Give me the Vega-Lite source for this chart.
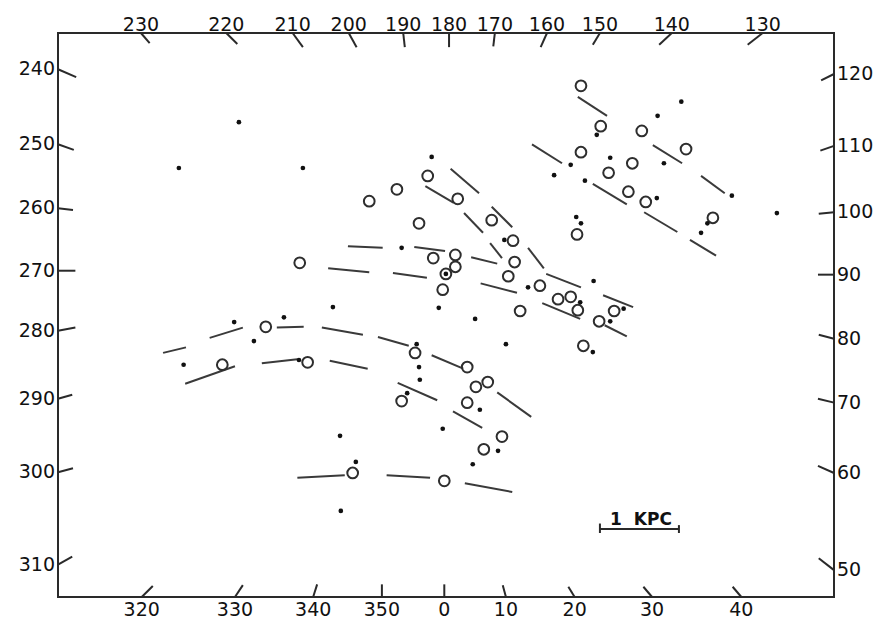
{
  "$schema": "https://vega.github.io/schema/vega-lite/v6.json",
  "width": 776,
  "height": 564,
  "autosize": {"type": "none"},
  "padding": {"left": 58, "top": 33, "right": 43, "bottom": 25},
  "background": "white",
  "config": {"view": {"stroke": "#2a2a2a", "strokeWidth": 2}},
  "datasets": {
    "circles": [
      {"x": 6.62, "y": 6.47}, {"x": 6.87, "y": 5.96}, {"x": 7.39, "y": 5.90}, {"x": 7.95, "y": 5.67},
      {"x": 6.62, "y": 5.63}, {"x": 7.27, "y": 5.49}, {"x": 6.97, "y": 5.37}, {"x": 7.22, "y": 5.13},
      {"x": 7.44, "y": 5.00}, {"x": 8.29, "y": 4.80}, {"x": 6.57, "y": 4.59}, {"x": 4.68, "y": 5.33},
      {"x": 4.29, "y": 5.16}, {"x": 3.94, "y": 5.01}, {"x": 5.06, "y": 5.04}, {"x": 4.57, "y": 4.73},
      {"x": 5.49, "y": 4.77}, {"x": 5.76, "y": 4.51}, {"x": 4.75, "y": 4.29}, {"x": 5.03, "y": 4.33},
      {"x": 5.03, "y": 4.18}, {"x": 4.91, "y": 4.09}, {"x": 4.87, "y": 3.89}, {"x": 5.78, "y": 4.24},
      {"x": 5.70, "y": 4.06}, {"x": 6.10, "y": 3.94}, {"x": 3.06, "y": 4.23}, {"x": 6.33, "y": 3.77},
      {"x": 6.49, "y": 3.80}, {"x": 6.58, "y": 3.63}, {"x": 7.04, "y": 3.62}, {"x": 6.85, "y": 3.49},
      {"x": 6.65, "y": 3.18}, {"x": 5.85, "y": 3.62}, {"x": 4.52, "y": 3.09}, {"x": 4.35, "y": 2.48},
      {"x": 5.18, "y": 2.91}, {"x": 5.29, "y": 2.66}, {"x": 5.44, "y": 2.72}, {"x": 5.18, "y": 2.46},
      {"x": 5.62, "y": 2.03}, {"x": 5.39, "y": 1.87}, {"x": 4.89, "y": 1.47}, {"x": 3.73, "y": 1.57},
      {"x": 2.63, "y": 3.42}, {"x": 2.08, "y": 2.94}, {"x": 3.16, "y": 2.97}
    ],
    "dots": [
      {"x": 2.29, "y": 6.01}, {"x": 1.53, "y": 5.43}, {"x": 3.10, "y": 5.43}, {"x": 4.73, "y": 5.57},
      {"x": 4.35, "y": 4.42}, {"x": 3.48, "y": 3.67}, {"x": 2.86, "y": 3.54}, {"x": 2.23, "y": 3.48},
      {"x": 2.48, "y": 3.24}, {"x": 1.59, "y": 2.94}, {"x": 3.05, "y": 3.00}, {"x": 4.54, "y": 3.20},
      {"x": 4.57, "y": 2.91}, {"x": 4.58, "y": 2.75}, {"x": 4.42, "y": 2.58}, {"x": 3.57, "y": 2.04},
      {"x": 3.77, "y": 1.71}, {"x": 3.58, "y": 1.09}, {"x": 4.82, "y": 3.66}, {"x": 5.28, "y": 3.52},
      {"x": 5.95, "y": 3.92}, {"x": 5.65, "y": 4.52}, {"x": 4.91, "y": 4.09}, {"x": 5.67, "y": 3.20},
      {"x": 5.34, "y": 2.37}, {"x": 4.87, "y": 2.13}, {"x": 5.57, "y": 1.85}, {"x": 5.25, "y": 1.68},
      {"x": 7.89, "y": 6.27}, {"x": 7.59, "y": 6.09}, {"x": 6.82, "y": 5.85}, {"x": 7.67, "y": 5.49},
      {"x": 6.99, "y": 5.56}, {"x": 6.49, "y": 5.47}, {"x": 6.28, "y": 5.34}, {"x": 6.67, "y": 5.27},
      {"x": 7.58, "y": 5.05}, {"x": 8.53, "y": 5.08}, {"x": 9.10, "y": 4.86}, {"x": 8.22, "y": 4.73},
      {"x": 8.14, "y": 4.61}, {"x": 6.56, "y": 4.81}, {"x": 6.62, "y": 4.73}, {"x": 6.78, "y": 4.00},
      {"x": 6.61, "y": 3.73}, {"x": 7.16, "y": 3.65}, {"x": 6.99, "y": 3.49}, {"x": 6.77, "y": 3.10}
    ],
    "segments": [
      {"x": 1.33, "y": 3.09, "x2": 1.62, "y2": 3.16},
      {"x": 1.92, "y": 3.28, "x2": 2.34, "y2": 3.41},
      {"x": 2.77, "y": 3.41, "x2": 3.11, "y2": 3.42},
      {"x": 3.34, "y": 3.41, "x2": 3.86, "y2": 3.32},
      {"x": 4.05, "y": 3.29, "x2": 4.44, "y2": 3.18},
      {"x": 4.73, "y": 3.06, "x2": 5.13, "y2": 2.89},
      {"x": 1.61, "y": 2.70, "x2": 2.24, "y2": 2.92},
      {"x": 2.58, "y": 2.96, "x2": 3.03, "y2": 3.01},
      {"x": 3.44, "y": 2.99, "x2": 3.92, "y2": 2.89},
      {"x": 4.30, "y": 2.71, "x2": 4.80, "y2": 2.49},
      {"x": 5.00, "y": 2.35, "x2": 5.37, "y2": 2.14},
      {"x": 5.56, "y": 2.59, "x2": 5.99, "y2": 2.28},
      {"x": 3.03, "y": 1.51, "x2": 3.63, "y2": 1.54},
      {"x": 4.16, "y": 1.54, "x2": 4.71, "y2": 1.51},
      {"x": 5.15, "y": 1.44, "x2": 5.75, "y2": 1.33},
      {"x": 3.67, "y": 4.44, "x2": 4.11, "y2": 4.42},
      {"x": 4.51, "y": 4.43, "x2": 4.90, "y2": 4.38},
      {"x": 3.42, "y": 4.16, "x2": 3.94, "y2": 4.11},
      {"x": 4.24, "y": 4.10, "x2": 4.67, "y2": 4.04},
      {"x": 5.23, "y": 4.30, "x2": 5.56, "y2": 4.22},
      {"x": 5.35, "y": 3.97, "x2": 5.81, "y2": 3.85},
      {"x": 6.18, "y": 4.09, "x2": 6.62, "y2": 3.92},
      {"x": 6.90, "y": 3.82, "x2": 7.28, "y2": 3.67},
      {"x": 6.13, "y": 3.72, "x2": 6.61, "y2": 3.52},
      {"x": 6.92, "y": 3.44, "x2": 7.20, "y2": 3.30},
      {"x": 4.65, "y": 5.20, "x2": 5.01, "y2": 4.99},
      {"x": 4.97, "y": 5.42, "x2": 5.33, "y2": 5.11},
      {"x": 5.14, "y": 4.86, "x2": 5.38, "y2": 4.61},
      {"x": 5.49, "y": 4.94, "x2": 5.75, "y2": 4.68},
      {"x": 5.47, "y": 4.48, "x2": 5.62, "y2": 4.29},
      {"x": 5.95, "y": 4.42, "x2": 6.15, "y2": 4.16},
      {"x": 6.58, "y": 6.33, "x2": 6.95, "y2": 6.09},
      {"x": 6.00, "y": 5.73, "x2": 6.38, "y2": 5.49},
      {"x": 6.77, "y": 5.23, "x2": 7.20, "y2": 4.97},
      {"x": 7.53, "y": 5.72, "x2": 7.90, "y2": 5.49},
      {"x": 8.14, "y": 5.33, "x2": 8.44, "y2": 5.11},
      {"x": 7.42, "y": 4.87, "x2": 7.84, "y2": 4.62},
      {"x": 8.00, "y": 4.52, "x2": 8.33, "y2": 4.32}
    ],
    "ticks": [
      {"side": "top", "label": "230", "x": 1.05, "y": 7.139, "x2": 1.16, "y2": 7.01},
      {"side": "top", "label": "220", "x": 2.13, "y": 7.139, "x2": 2.27, "y2": 7.00},
      {"side": "top", "label": "210", "x": 2.97, "y": 7.139, "x2": 3.10, "y2": 6.96},
      {"side": "top", "label": "200", "x": 3.68, "y": 7.139, "x2": 3.78, "y2": 6.96},
      {"side": "top", "label": "190", "x": 4.37, "y": 7.139, "x2": 4.39, "y2": 6.96},
      {"side": "top", "label": "180", "x": 4.95, "y": 7.139, "x2": 4.95, "y2": 6.96},
      {"side": "top", "label": "170", "x": 5.53, "y": 7.139, "x2": 5.51, "y2": 6.97},
      {"side": "top", "label": "160", "x": 6.19, "y": 7.139, "x2": 6.11, "y2": 6.96},
      {"side": "top", "label": "150", "x": 6.86, "y": 7.139, "x2": 6.77, "y2": 6.99},
      {"side": "top", "label": "140", "x": 7.77, "y": 7.139, "x2": 7.61, "y2": 6.99},
      {"side": "top", "label": "130", "x": 8.92, "y": 7.139, "x2": 8.73, "y2": 6.99},
      {"side": "left", "label": "240", "x": 0, "y": 6.68, "x2": 0.23, "y2": 6.58},
      {"side": "left", "label": "250", "x": 0, "y": 5.73, "x2": 0.20, "y2": 5.66},
      {"side": "left", "label": "260", "x": 0, "y": 4.92, "x2": 0.19, "y2": 4.90},
      {"side": "left", "label": "270", "x": 0, "y": 4.13, "x2": 0.22, "y2": 4.13},
      {"side": "left", "label": "280", "x": 0, "y": 3.37, "x2": 0.22, "y2": 3.41},
      {"side": "left", "label": "290", "x": 0, "y": 2.51, "x2": 0.18, "y2": 2.56},
      {"side": "left", "label": "300", "x": 0, "y": 1.58, "x2": 0.19, "y2": 1.63},
      {"side": "left", "label": "310", "x": 0, "y": 0.41, "x2": 0.18, "y2": 0.51},
      {"side": "bottom", "label": "320", "x": 1.06, "y": 0, "x2": 1.20, "y2": 0.14},
      {"side": "bottom", "label": "330", "x": 2.24, "y": 0, "x2": 2.34, "y2": 0.15},
      {"side": "bottom", "label": "340", "x": 3.23, "y": 0, "x2": 3.28, "y2": 0.16},
      {"side": "bottom", "label": "350", "x": 4.10, "y": 0, "x2": 4.10, "y2": 0.16},
      {"side": "bottom", "label": "0", "x": 4.89, "y": 0, "x2": 4.89, "y2": 0.16},
      {"side": "bottom", "label": "10", "x": 5.67, "y": 0, "x2": 5.63, "y2": 0.15},
      {"side": "bottom", "label": "20", "x": 6.54, "y": 0, "x2": 6.46, "y2": 0.13},
      {"side": "bottom", "label": "30", "x": 7.52, "y": 0, "x2": 7.41, "y2": 0.13},
      {"side": "bottom", "label": "40", "x": 8.65, "y": 0, "x2": 8.54, "y2": 0.13},
      {"side": "right", "label": "120", "x": 9.823, "y": 6.62, "x2": 9.66, "y2": 6.54},
      {"side": "right", "label": "110", "x": 9.823, "y": 5.71, "x2": 9.65, "y2": 5.65},
      {"side": "right", "label": "100", "x": 9.823, "y": 4.87, "x2": 9.63, "y2": 4.85},
      {"side": "right", "label": "90", "x": 9.823, "y": 4.08, "x2": 9.62, "y2": 4.08},
      {"side": "right", "label": "80", "x": 9.823, "y": 3.27, "x2": 9.63, "y2": 3.32},
      {"side": "right", "label": "70", "x": 9.823, "y": 2.46, "x2": 9.62, "y2": 2.51},
      {"side": "right", "label": "60", "x": 9.823, "y": 1.57, "x2": 9.62, "y2": 1.66},
      {"side": "right", "label": "50", "x": 9.823, "y": 0.34, "x2": 9.63, "y2": 0.49}
    ],
    "scalebar": [
      {"x": 6.86, "y": 0.86, "x2": 7.86, "y2": 0.86},
      {"x": 6.86, "y": 0.81, "x2": 6.86, "y2": 0.93},
      {"x": 7.86, "y": 0.81, "x2": 7.86, "y2": 0.91}
    ],
    "scalelabel": [
      {"x": 7.38, "y": 0.91, "label": "1\u00a0\u00a0KPC"}
    ]
  },
  "encoding": {
    "x": {"field": "x", "type": "quantitative", "scale": {"domain": [0, 9.823], "nice": false, "zero": false}, "axis": null},
    "y": {"field": "y", "type": "quantitative", "scale": {"domain": [0, 7.139], "nice": false, "zero": false}, "axis": null}
  },
  "layer": [
    {
      "data": {"name": "segments"},
      "mark": {"type": "rule", "stroke": "#3a3a3a", "strokeWidth": 2},
      "encoding": {"x2": {"field": "x2"}, "y2": {"field": "y2"}}
    },
    {
      "data": {"name": "ticks"},
      "mark": {"type": "rule", "stroke": "#2a2a2a", "strokeWidth": 2},
      "encoding": {"x2": {"field": "x2"}, "y2": {"field": "y2"}}
    },
    {
      "data": {"name": "scalebar"},
      "mark": {"type": "rule", "stroke": "#2a2a2a", "strokeWidth": 2},
      "encoding": {"x2": {"field": "x2"}, "y2": {"field": "y2"}}
    },
    {
      "data": {"name": "circles"},
      "mark": {"type": "point", "shape": "circle", "filled": false, "size": 115, "stroke": "#2e2e2e", "strokeWidth": 2, "opacity": 1}
    },
    {
      "data": {"name": "dots"},
      "mark": {"type": "circle", "size": 22, "color": "#111111", "opacity": 1}
    },
    {
      "data": {"name": "ticks"},
      "transform": [{"filter": "datum.side === 'top'"}],
      "mark": {"type": "text", "font": "DejaVu Sans", "fontSize": 19, "align": "center", "baseline": "alphabetic", "dy": -2, "color": "#111111"},
      "encoding": {"text": {"field": "label"}}
    },
    {
      "data": {"name": "ticks"},
      "transform": [{"filter": "datum.side === 'bottom'"}],
      "mark": {"type": "text", "font": "DejaVu Sans", "fontSize": 19, "align": "center", "baseline": "alphabetic", "dy": 19, "color": "#111111"},
      "encoding": {"text": {"field": "label"}}
    },
    {
      "data": {"name": "ticks"},
      "transform": [{"filter": "datum.side === 'left'"}],
      "mark": {"type": "text", "font": "DejaVu Sans", "fontSize": 19, "align": "right", "baseline": "middle", "dx": -3, "color": "#111111"},
      "encoding": {"text": {"field": "label"}}
    },
    {
      "data": {"name": "ticks"},
      "transform": [{"filter": "datum.side === 'right'"}],
      "mark": {"type": "text", "font": "DejaVu Sans", "fontSize": 19, "align": "left", "baseline": "middle", "dx": 3, "color": "#111111"},
      "encoding": {"text": {"field": "label"}}
    },
    {
      "data": {"name": "scalelabel"},
      "mark": {"type": "text", "font": "DejaVu Sans", "fontSize": 17, "fontWeight": "bold", "align": "center", "baseline": "alphabetic", "color": "#111111"},
      "encoding": {"text": {"field": "label"}}
    }
  ]
}
